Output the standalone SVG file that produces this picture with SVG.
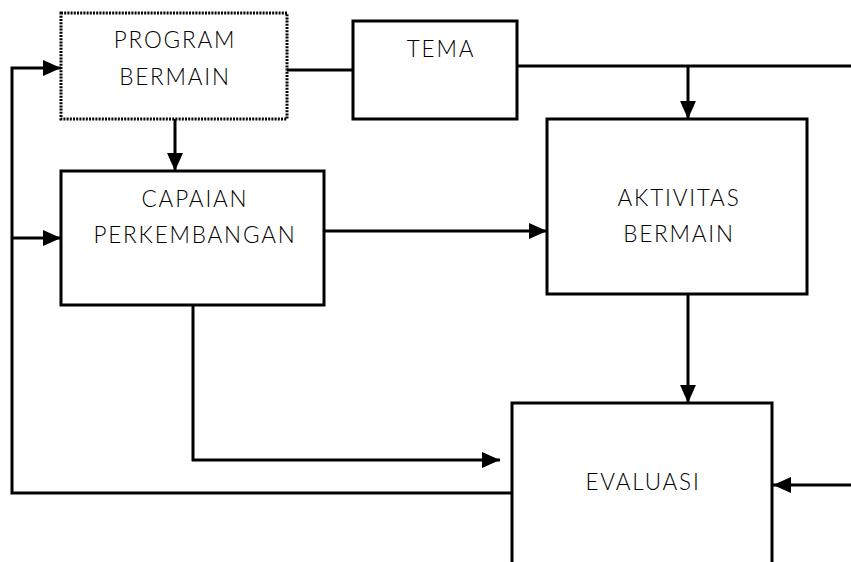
<svg xmlns="http://www.w3.org/2000/svg" width="851" height="562" viewBox="0 0 851 562">
  <style>
    .box { fill: #fff; stroke: #000; stroke-width: 3; }
    .dotted { stroke-dasharray: 2 1.2; }
    .wire { fill: none; stroke: #000; stroke-width: 3; }
    .lbl { font-family: Lato, "Open Sans", "Liberation Sans", sans-serif; font-weight: 300; font-size: 22.5px; letter-spacing: 1.8px; fill: #000; text-anchor: middle; }
  </style>
  <defs>
    <marker id="arrow" viewBox="0 0 10 10" refX="10" refY="5" markerWidth="6" markerHeight="5.3" preserveAspectRatio="none" markerUnits="strokeWidth" orient="auto">
      <path d="M0,0 L10,5 L0,10 Z" fill="#000"/>
    </marker>
  </defs>
  <rect width="851" height="562" fill="#fff"/>

  <g id="connectors">
    <!-- program -> tema -->
    <path class="wire" d="M287,70 H353"/>
    <!-- tema -> off to the right, with a branch down to aktivitas -->
    <path class="wire" d="M517,66 H851"/>
    <path class="wire" d="M688,66 V119" marker-end="url(#arrow)"/>
    <!-- program -> capaian -->
    <path class="wire" d="M175,119 V171" marker-end="url(#arrow)"/>
    <!-- capaian -> aktivitas -->
    <path class="wire" d="M324,231 H547" marker-end="url(#arrow)"/>
    <!-- capaian -> evaluasi -->
    <path class="wire" d="M193,305 V460 H500" marker-end="url(#arrow)"/>
    <!-- aktivitas -> evaluasi -->
    <path class="wire" d="M688,294 V403" marker-end="url(#arrow)"/>
    <!-- from the right edge into evaluasi -->
    <path class="wire" d="M851,485 H773" marker-end="url(#arrow)"/>
    <!-- feedback loop from evaluasi -->
    <path class="wire" d="M512,493 H12 V68 H61" marker-end="url(#arrow)"/>
    <path class="wire" d="M12,238 H61" marker-end="url(#arrow)"/>
  </g>

  <g id="program-bermain">
    <rect class="box dotted" x="61" y="13" width="226" height="106"/>
    <text class="lbl" x="175" y="48">PROGRAM</text>
    <text class="lbl" x="175" y="85">BERMAIN</text>
  </g>

  <g id="tema">
    <rect class="box" x="353" y="21" width="164" height="98"/>
    <text class="lbl" x="441" y="57">TEMA</text>
  </g>

  <g id="capaian-perkembangan">
    <rect class="box" x="61" y="171" width="263" height="134"/>
    <text class="lbl" x="195" y="207">CAPAIAN</text>
    <text class="lbl" x="195" y="243">PERKEMBANGAN</text>
  </g>

  <g id="aktivitas-bermain">
    <rect class="box" x="547" y="119" width="260" height="175"/>
    <text class="lbl" x="679" y="206">AKTIVITAS</text>
    <text class="lbl" x="679" y="242">BERMAIN</text>
  </g>

  <g id="evaluasi">
    <rect class="box" x="512" y="403" width="260" height="175"/>
    <text class="lbl" x="643" y="490">EVALUASI</text>
  </g>
</svg>
